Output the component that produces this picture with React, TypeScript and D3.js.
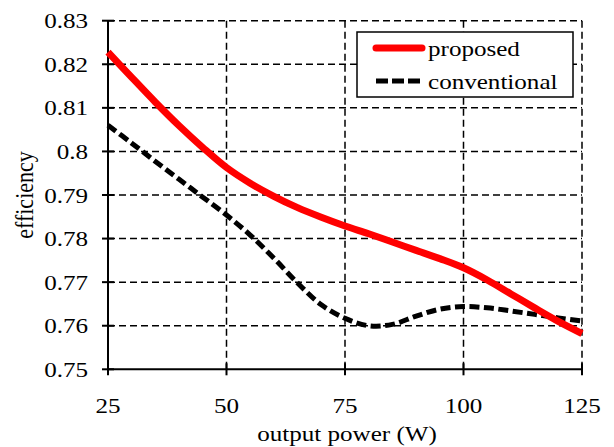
import React, { useRef, useEffect } from 'react';
import * as d3 from 'd3';

const power = [25, 30, 35, 40, 45, 50, 55, 60, 65, 70, 75, 80, 85, 90, 95, 100, 105, 110, 115, 120, 125];
const proposed = [0.8228, 0.8170, 0.8113, 0.8059, 0.8009, 0.7963, 0.7927, 0.7897, 0.7871, 0.7849, 0.7829,
  0.7811, 0.7792, 0.7773, 0.7754, 0.7733, 0.7705, 0.7673, 0.7641, 0.7610, 0.7582];
const conventional = [0.8060, 0.8019, 0.7977, 0.7936, 0.7895, 0.7854, 0.7808, 0.7755, 0.7698, 0.7648, 0.7617,
  0.7600, 0.7603, 0.7622, 0.7638, 0.7644, 0.7641, 0.7634, 0.7626, 0.7618, 0.7611];
const xTicks = [25, 50, 75, 100, 125];
const yTicks = [0.75, 0.76, 0.77, 0.78, 0.79, 0.8, 0.81, 0.82, 0.83];
const seriesNames = ['proposed', 'conventional'];

const FONT = 'Liberation Serif, Times New Roman, Times, serif';
const SX = 1.14; // the source picture is a bit stretched sideways

const App = () => {
  const ref = useRef(null);

  useEffect(() => {
    const width = 614;
    const height = 447;
    const left = 108, right = 582, top = 20.7, bottom = 369.3;

    const svg = d3.select(ref.current);
    svg.selectAll('*').remove();
    svg.attr('width', width).attr('height', height);

    svg.append('rect').attr('width', width).attr('height', height).attr('fill', 'white');

    const x = d3.scaleLinear().domain([25, 125]).range([left, right]);
    const y = d3.scaleLinear().domain([0.75, 0.83]).range([bottom, top]);

    // grid
    const grid = svg.append('g')
      .attr('stroke', 'black')
      .attr('stroke-width', 1.5)
      .attr('stroke-dasharray', '7,4');
    grid.selectAll('line.h')
      .data(yTicks.slice(1))
      .join('line')
      .attr('class', 'h')
      .attr('x1', left).attr('x2', right)
      .attr('y1', d => y(d)).attr('y2', d => y(d));
    grid.selectAll('line.v')
      .data(xTicks.slice(1))
      .join('line')
      .attr('class', 'v')
      .attr('x1', d => x(d)).attr('x2', d => x(d))
      .attr('y1', top).attr('y2', bottom);

    // axes
    const axes = svg.append('g').attr('stroke', 'black').attr('stroke-width', 2);
    axes.append('line').attr('x1', left).attr('x2', left).attr('y1', top).attr('y2', bottom);
    axes.append('line').attr('x1', left).attr('x2', right + 1).attr('y1', bottom).attr('y2', bottom);
    axes.selectAll('line.yt')
      .data(yTicks)
      .join('line')
      .attr('class', 'yt')
      .attr('x1', left - 6).attr('x2', left + 6)
      .attr('y1', d => y(d)).attr('y2', d => y(d));
    axes.selectAll('line.xt')
      .data(xTicks)
      .join('line')
      .attr('class', 'xt')
      .attr('x1', d => x(d)).attr('x2', d => x(d))
      .attr('y1', bottom - 6).attr('y2', bottom + 6);

    const txt = (g: any) => g.style('font-family', FONT).style('font-size', '22px').attr('fill', 'black');

    // tick labels
    svg.append('g')
      .selectAll('text')
      .data(yTicks)
      .join('text')
      .attr('transform', d => `translate(88, ${y(d) + 7.5}) scale(${SX}, 1)`)
      .attr('text-anchor', 'end')
      .call(txt)
      .text(d => String(d));

    svg.append('g')
      .selectAll('text')
      .data(xTicks)
      .join('text')
      .attr('transform', d => `translate(${x(d)}, 412.5) scale(${SX}, 1)`)
      .attr('text-anchor', 'middle')
      .call(txt)
      .text(d => String(d));

    // axis titles
    svg.append('text')
      .attr('transform', `translate(347, 441) scale(${SX}, 1)`)
      .attr('text-anchor', 'middle')
      .call(txt)
      .text('output power (W)');

    svg.append('text')
      .attr('transform', `translate(33, 195) scale(${SX}, 1) rotate(-90)`)
      .attr('text-anchor', 'middle')
      .call(txt)
      .text('efficiency');

    // lines
    const line = d3.line<number>()
      .x((_, i) => x(power[i]))
      .y(d => y(d))
      .curve(d3.curveCatmullRom);

    svg.append('path')
      .attr('d', line(conventional))
      .attr('fill', 'none')
      .attr('stroke', 'black')
      .attr('stroke-width', 5)
      .attr('stroke-dasharray', '10,4.5');

    svg.append('path')
      .attr('d', line(proposed))
      .attr('fill', 'none')
      .attr('stroke', '#ff0000')
      .attr('stroke-width', 7);

    // legend
    const lg = svg.append('g');
    lg.append('rect')
      .attr('x', 357).attr('y', 32).attr('width', 216).attr('height', 65)
      .attr('fill', 'white').attr('stroke', 'black').attr('stroke-width', 1.5);
    const styles = [
      { stroke: '#ff0000', w: 7, dash: null },
      { stroke: 'black', w: 5, dash: '12,4' },
    ];
    seriesNames.forEach((name, i) => {
      const ly = 48 + i * 33;
      lg.append('line')
        .attr('x1', 376).attr('x2', 422)
        .attr('y1', ly).attr('y2', ly)
        .attr('stroke', styles[i].stroke)
        .attr('stroke-width', styles[i].w)
        .attr('stroke-linecap', i === 0 ? 'round' : 'butt')
        .attr('stroke-dasharray', styles[i].dash);
      lg.append('text')
        .attr('transform', `translate(428, ${ly + 8}) scale(${SX}, 1)`)
        .call(txt)
        .text(name);
    });
  }, []);

  return (
    <svg ref={ref} style={{ position: 'absolute', left: 0, top: 0, display: 'block' }}></svg>
  );
};

export default App;
